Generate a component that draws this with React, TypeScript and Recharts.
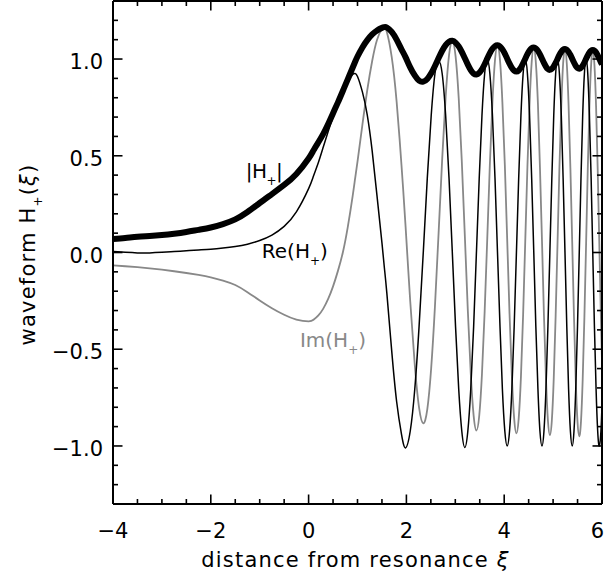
import React from 'react';
import { LineChart, Line, XAxis, YAxis, ReferenceDot } from 'recharts';

// ---------- data ----------
const xi = [
  -4, -3.75, -3.5, -3.25, -3, -2.75, -2.5, -2.25, -2, -1.75, -1.5, -1.25, -1, -0.75, -0.5, -0.25,
  0, 0.1, 0.2, 0.3, 0.4, 0.5, 0.6, 0.7, 0.8, 0.9, 0.95, 1.0, 1.1, 1.2, 1.3, 1.4, 1.5, 1.55, 1.6, 1.7, 1.8, 1.9,
  1.982, 2.078, 2.171, 2.259, 2.345, 2.427, 2.507, 2.584, 2.659, 2.732, 2.803, 2.872, 2.939, 3.005, 3.07, 3.133,
  3.195, 3.256, 3.316, 3.375, 3.432, 3.489, 3.545, 3.6, 3.654, 3.707, 3.76, 3.812, 3.863, 3.914, 3.963, 4.013,
  4.061, 4.109, 4.157, 4.204, 4.25, 4.296, 4.342, 4.387, 4.431, 4.475, 4.519, 4.562, 4.605, 4.647, 4.69, 4.731,
  4.773, 4.813, 4.854, 4.894, 4.934, 4.974, 5.013, 5.052, 5.091, 5.129, 5.168, 5.205, 5.243, 5.28, 5.317, 5.354,
  5.391, 5.427, 5.463, 5.499, 5.535, 5.57, 5.605, 5.64, 5.675, 5.709, 5.743, 5.778, 5.811, 5.845, 5.879, 5.912,
  5.945, 5.978, 6.0,
];

const reH = [
  0.005, 0.001, -0.002, -0.002, 0.001, 0.005, 0.009, 0.013, 0.017, 0.023, 0.031, 0.043, 0.062, 0.09, 0.135, 0.21,
  0.33, 0.395, 0.465, 0.545, 0.625, 0.7, 0.77, 0.835, 0.885, 0.92, 0.925, 0.91, 0.83, 0.71, 0.525, 0.29, 0.05, -0.08, -0.21, -0.51, -0.77, -0.94,
  -1.01, -0.924, -0.707, -0.383, 0, 0.383, 0.707, 0.924, 0.99, 0.924, 0.707, 0.383, 0, -0.383, -0.707, -0.924,
  -1.008, -0.924, -0.707, -0.383, 0, 0.383, 0.707, 0.924, 1, 0.924, 0.707, 0.383, 0, -0.383, -0.707, -0.924,
  -1, -0.924, -0.707, -0.383, 0, 0.383, 0.707, 0.924, 1, 0.924, 0.707, 0.383, 0, -0.383, -0.707, -0.924,
  -1, -0.924, -0.707, -0.383, 0, 0.383, 0.707, 0.924, 1, 0.924, 0.707, 0.383, 0, -0.383, -0.707, -0.924,
  -1, -0.924, -0.707, -0.383, 0, 0.383, 0.707, 0.924, 1, 0.924, 0.707, 0.383, 0, -0.383, -0.707, -0.924,
  -1, -0.924, -0.791,
];

const imH = [
  -0.067, -0.071, -0.076, -0.082, -0.089, -0.097, -0.106, -0.116, -0.128, -0.145, -0.168, -0.205, -0.248, -0.288, -0.322, -0.347,
  -0.356, -0.348, -0.325, -0.29, -0.24, -0.175, -0.095, 0.0, 0.13, 0.29, 0.38, 0.47, 0.66, 0.84, 0.99, 1.1, 1.155, 1.163, 1.14, 1.01, 0.78, 0.45,
  0.139, -0.251, -0.58, -0.802, -0.883, -0.811, -0.597, -0.277, 0.103, 0.484, 0.805, 1.02, 1.094, 1.016, 0.797, 0.471,
  0.086, -0.299, -0.624, -0.843, -0.92, -0.845, -0.629, -0.307, 0.075, 0.457, 0.78, 0.996, 1.071, 0.994, 0.776, 0.452,
  0.068, -0.316, -0.641, -0.859, -0.935, -0.86, -0.644, -0.32, 0.062, 0.445, 0.768, 0.984, 1.06, 0.983, 0.766, 0.441,
  0.058, -0.326, -0.65, -0.868, -0.944, -0.869, -0.652, -0.329, 0.054, 0.437, 0.76, 0.977, 1.052, 0.976, 0.759, 0.434,
  0.051, -0.332, -0.657, -0.874, -0.95, -0.875, -0.658, -0.334, 0.048, 0.431, 0.755, 0.972, 1.047, 0.971, 0.754, 0.43,
  0.046, -0.337, -0.565,
];

const absH = [
  0.07, 0.075, 0.081, 0.085, 0.09, 0.097, 0.106, 0.117, 0.129, 0.147, 0.171, 0.209, 0.256, 0.302, 0.349, 0.406,
  0.486, 0.528, 0.57, 0.613, 0.664, 0.72, 0.776, 0.835, 0.895, 0.955, 0.985, 1.013, 1.06, 1.098, 1.127, 1.148, 1.161, 1.165, 1.163, 1.14, 1.1, 1.05,
  1.01, 0.957, 0.915, 0.888, 0.883, 0.897, 0.926, 0.964, 1.005, 1.043, 1.072, 1.089, 1.094, 1.085, 1.065, 1.037,
  1.004, 0.971, 0.943, 0.925, 0.92, 0.928, 0.947, 0.973, 1.003, 1.031, 1.053, 1.067, 1.071, 1.065, 1.05, 1.028,
  1.002, 0.976, 0.954, 0.94, 0.935, 0.941, 0.956, 0.978, 1.002, 1.025, 1.044, 1.056, 1.06, 1.055, 1.042, 1.024,
  1.002, 0.98, 0.961, 0.948, 0.944, 0.949, 0.962, 0.98, 1.001, 1.022, 1.038, 1.049, 1.052, 1.048, 1.037, 1.021,
  1.001, 0.982, 0.965, 0.954, 0.95, 0.955, 0.966, 0.982, 1.001, 1.019, 1.034, 1.044, 1.047, 1.044, 1.034, 1.019,
  1.001, 0.983, 0.973,
];

const X_TICKS = [-4, -3.5, -3, -2.5, -2, -1.5, -1, -0.5, 0, 0.5, 1, 1.5, 2, 2.5, 3, 3.5, 4, 4.5, 5, 5.5, 6];
const X_LABELS = [-4, -2, 0, 2, 4, 6];
const Y_TICKS = [
  -1.3, -1.2, -1.1, -1.0, -0.9, -0.8, -0.7, -0.6, -0.5, -0.4, -0.3, -0.2, -0.1, 0,
  0.1, 0.2, 0.3, 0.4, 0.5, 0.6, 0.7, 0.8, 0.9, 1.0, 1.1, 1.2, 1.3,
];
const Y_LABELS = [-1, -0.5, 0, 0.5, 1];

const data = xi.map((x, i) => ({ xi: x, re: reH[i], im: imH[i], abs: absH[i] }));

// ---------- styling ----------
const FONT = '"DejaVu Sans", sans-serif';
const MAJOR = 9.5;
const MINOR = 5;
const TICK_W = 1.6;
const GREY = '#888888';
const CHART_W = 605;

const isIn = (arr: number[], v: number) => arr.some((l) => Math.abs(l - v) < 1e-9);
const fmt = (v: number, d: number) => (v < -1e-9 ? '\u2212' : '') + Math.abs(v).toFixed(d);

function BottomTick(props: any) {
  const { x, y, payload } = props;
  const v = payload.value;
  const major = isIn(X_LABELS, v);
  // keep the last label inside the picture
  const atEdge = x + 7 > CHART_W;
  return (
    <g>
      <line x1={x} x2={x} y1={y} y2={y - (major ? MAJOR : MINOR)} stroke="#000" strokeWidth={TICK_W} />
      {major && (
        <text
          x={atEdge ? CHART_W - 1 : x}
          y={y + 34}
          textAnchor={atEdge ? 'end' : 'middle'}
          fontFamily={FONT}
          fontSize={21}
          fill="#000"
        >
          {fmt(v, 0)}
        </text>
      )}
    </g>
  );
}

function TopTick(props: any) {
  const { x, y, payload } = props;
  const major = isIn(X_LABELS, payload.value);
  return <line x1={x} x2={x} y1={y} y2={y + (major ? MAJOR : MINOR)} stroke="#000" strokeWidth={TICK_W} />;
}

function LeftTick(props: any) {
  const { x, y, payload } = props;
  const v = payload.value;
  const major = isIn(Y_LABELS, v);
  return (
    <g>
      <line x1={x} x2={x + (major ? MAJOR : MINOR)} y1={y} y2={y} stroke="#000" strokeWidth={TICK_W} />
      {major && (
        <text x={x - 10} y={y + 10} textAnchor="end" fontFamily={FONT} fontSize={21} fill="#000">
          {fmt(v, 1)}
        </text>
      )}
    </g>
  );
}

function RightTick(props: any) {
  const { x, y, payload } = props;
  const major = isIn(Y_LABELS, payload.value);
  return <line x1={x} x2={x - (major ? MAJOR : MINOR)} y1={y} y2={y} stroke="#000" strokeWidth={TICK_W} />;
}

function XTitle(props: any) {
  const vb = props.viewBox || { x: 113, y: 504, width: 489 };
  return (
    <text
      x={vb.x + vb.width / 2 - 2}
      y={vb.y + 63}
      textAnchor="middle"
      fontFamily={FONT}
      fontSize={21}
      letterSpacing={1.2}
      fill="#000"
    >
      distance from resonance <tspan fontStyle="italic">ξ</tspan>
    </text>
  );
}

function YTitle(props: any) {
  const vb = props.viewBox || { y: 1, height: 503 };
  const cx = 35;
  const cy = vb.y + vb.height / 2 + 2;
  return (
    <text
      x={cx}
      y={cy}
      transform={`rotate(-90, ${cx}, ${cy})`}
      textAnchor="middle"
      fontFamily={FONT}
      fontSize={21}
      letterSpacing={1.2}
      fill="#000"
    >
      waveform H
      <tspan fontSize={12} dy={7}>+</tspan>
      <tspan dy={-7}>(</tspan>
      <tspan fontStyle="italic">ξ</tspan>)
    </text>
  );
}

function makeLabel(main: string, fill: string, bars: boolean) {
  return (p: any) => (
    <text x={p.cx} y={p.cy} fontFamily={FONT} fontSize={20} fill={fill} letterSpacing={bars ? -0.5 : 0}>
      {main}
      <tspan fontSize={12} dy={7}>+</tspan>
      <tspan dy={-7}>{bars ? '|' : ')'}</tspan>
    </text>
  );
}

// annotation anchors in data coordinates
const ABS_LABEL = { x: -1.285, y: 0.387 };
const RE_LABEL = { x: -0.957, y: -0.031 };
const IM_LABEL = { x: -0.178, y: -0.489 };

export default function App() {
  return (
    <div style={{ position: 'absolute', left: 0, top: 0, background: '#fff' }}>
      <LineChart width={CHART_W} height={579} data={data} margin={{ top: 0, right: 2, bottom: 35, left: 0 }}>
        <XAxis
          xAxisId="b"
          dataKey="xi"
          type="number"
          domain={[-4, 6]}
          ticks={X_TICKS}
          interval={0}
          orientation="bottom"
          height={40}
          tickSize={0}
          tickMargin={0}
          tickLine={false}
          axisLine={{ stroke: '#000', strokeWidth: 2 }}
          tick={BottomTick}
          allowDataOverflow
          label={<XTitle />}
        />
        <XAxis
          xAxisId="t"
          dataKey="xi"
          type="number"
          domain={[-4, 6]}
          ticks={X_TICKS}
          interval={0}
          orientation="top"
          height={1}
          tickSize={0}
          tickMargin={0}
          tickLine={false}
          axisLine={{ stroke: '#000', strokeWidth: 2 }}
          tick={TopTick}
          allowDataOverflow
        />
        <YAxis
          yAxisId="l"
          type="number"
          domain={[-1.3, 1.3]}
          ticks={Y_TICKS}
          interval={0}
          orientation="left"
          width={113}
          tickSize={0}
          tickMargin={0}
          tickLine={false}
          axisLine={{ stroke: '#000', strokeWidth: 2 }}
          tick={LeftTick}
          allowDataOverflow
          label={<YTitle />}
        />
        <YAxis
          yAxisId="r"
          type="number"
          domain={[-1.3, 1.3]}
          ticks={Y_TICKS}
          interval={0}
          orientation="right"
          width={1}
          tickSize={0}
          tickMargin={0}
          tickLine={false}
          axisLine={{ stroke: '#000', strokeWidth: 2 }}
          tick={RightTick}
          allowDataOverflow
        />
        <Line
          xAxisId="t"
          yAxisId="r"
          dataKey="im"
          type="natural"
          stroke={GREY}
          strokeWidth={1.8}
          dot={false}
          isAnimationActive={false}
        />
        <Line
          xAxisId="b"
          yAxisId="l"
          dataKey="re"
          type="natural"
          stroke="#000"
          strokeWidth={1.5}
          dot={false}
          isAnimationActive={false}
        />
        <Line
          xAxisId="b"
          yAxisId="l"
          dataKey="abs"
          type="natural"
          stroke="#000"
          strokeWidth={6}
          dot={false}
          isAnimationActive={false}
        />
        <ReferenceDot xAxisId="b" yAxisId="l" x={ABS_LABEL.x} y={ABS_LABEL.y} r={0} shape={makeLabel('|H', '#000', true)} />
        <ReferenceDot xAxisId="b" yAxisId="l" x={RE_LABEL.x} y={RE_LABEL.y} r={0} shape={makeLabel('Re(H', '#000', false)} />
        <ReferenceDot xAxisId="b" yAxisId="l" x={IM_LABEL.x} y={IM_LABEL.y} r={0} shape={makeLabel('Im(H', GREY, false)} />
      </LineChart>
    </div>
  );
}
